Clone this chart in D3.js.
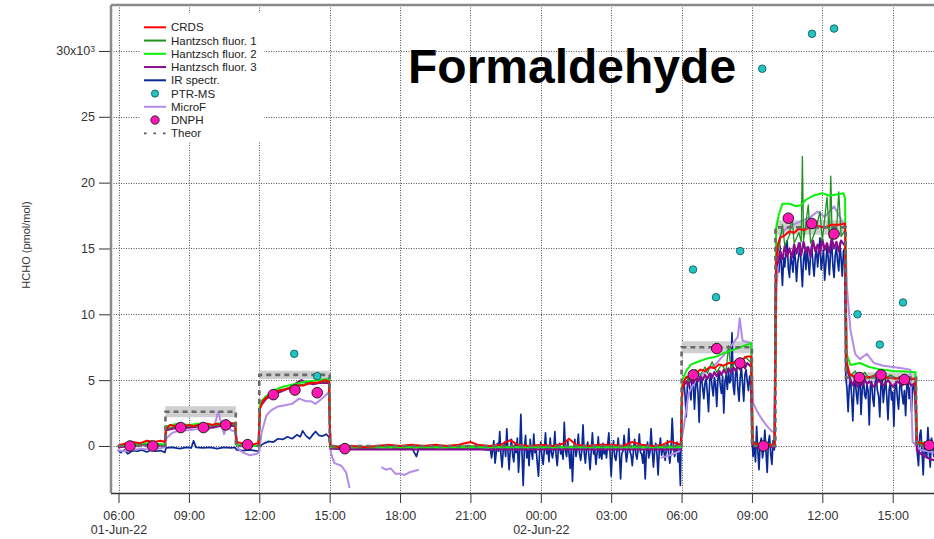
<!DOCTYPE html>
<meta charset="utf-8">
<style>
    body {
        margin: 0;
        background: #fff;
        font-family: 'Liberation Sans', Arial, sans-serif;
    }
    svg { display: block; }
    .tick text { fill: #333; }
</style>
<script src="https://cdn.jsdelivr.net/npm/d3@7"></script>
<div id="graph"></div>
<script>
    // all times are hours counted from 01-Jun-22 00:00, values in 10^3 pmol/mol
    const crds = [[5.97,0.0],[6.1,0.1],[6.3,0.2],[6.6,0.3],[6.9,0.2],[7.2,0.4],[7.5,0.3],[7.8,0.4],[7.97,0.3],
        [8.03,1.3],[8.2,1.6],[8.4,1.5],[8.6,1.7],[8.8,1.5],[9.0,1.6],[9.2,1.5],[9.4,1.6],[9.6,1.5],[9.8,1.7],[10.0,1.6],[10.2,1.7],[10.4,1.6],[10.6,1.8],[10.8,1.7],[10.97,1.7],
        [11.03,0.3],[11.3,0.2],[11.6,0.1],[11.97,0.2],
        [12.03,2.8],[12.15,3.4],[12.3,3.7],[12.5,3.9],[12.7,4.1],[12.9,4.25],[13.1,4.3],[13.3,4.4],[13.6,4.6],[13.9,4.6],[14.2,4.8],[14.5,4.8],[14.8,5.0],[14.97,4.9],
        [15.03,0.0],[15.5,-0.1],[16.0,0.0],[16.5,-0.1],[17.0,0.0],[17.5,0.1],[18.0,0.0],[18.5,0.1],[19.0,0.0],[19.5,0.1],[20.0,0.0],[20.5,0.1],[21.0,0.3],[21.3,0.1],[21.8,0.0],[22.3,0.1],[22.7,0.45],[23.0,0.1],[23.5,0.0],[24.0,0.1],[24.5,0.0],[25.0,0.2],[25.2,0.55],[25.5,0.1],[26.0,0.0],[26.5,0.1],[27.0,0.1],[27.5,0.0],[27.9,0.3],[28.3,0.1],[28.8,0.0],[29.2,0.1],[29.5,0.35],[29.97,0.1],
        [30.03,4.4],[30.15,5.1],[30.3,5.3],[30.45,5.6],[30.6,5.5],[30.8,5.8],[31.0,5.7],[31.2,6.0],[31.4,5.9],[31.6,6.2],[31.8,6.1],[32.0,6.3],[32.2,6.3],[32.4,6.5],[32.6,6.6],[32.8,6.8],[32.97,6.8],
        [33.03,0.2],[33.5,0.1],[33.97,0.1],
        [34.03,14.0],[34.1,15.3],[34.2,15.8],[34.4,16.0],[34.6,16.3],[34.8,16.2],[35.0,16.5],[35.2,16.4],[35.5,16.6],[35.8,16.7],[36.1,16.6],[36.4,16.8],[36.7,16.8],[36.97,16.9],
        [37.03,6.5],[37.15,5.5],[37.3,5.3],[37.6,5.4],[37.9,5.2],[38.2,5.3],[38.5,5.1],[38.8,5.2],[39.1,5.1],[39.4,5.2],[39.7,5.1],[39.97,5.1],
        [40.03,0.3],[40.3,0.2],[40.8,0.1]];

    const hantzsch1 = [[5.97,0.0],[6.5,0.1],[7.5,0.2],[7.97,0.1],[8.03,1.3],[8.5,1.5],[9.5,1.5],[10.5,1.6],[10.97,1.6],[11.03,0.1],[11.97,0.0],
        [12.03,3.2],[12.4,3.9],[13.0,4.3],[13.6,4.6],[14.2,4.8],[14.97,4.9],[15.03,0.0],[18,-0.05],[21,0.0],[24,-0.05],[27,0.0],[29.97,0.0],
        [30.03,4.6],[30.2,5.3],[30.3,4.9],[30.4,5.6],[30.5,5.1],[30.6,5.8],[30.8,5.4],[31.0,6.0],[31.1,5.5],[31.3,6.4],[31.5,5.6],[31.7,6.2],[31.9,5.7],[32.0,7.6],[32.1,5.9],[32.3,6.5],[32.5,5.9],[32.7,6.8],[32.97,6.3],
        [33.03,0.2],[33.5,0.0],[33.97,0.1],
        [34.03,14.0],[34.2,15.6],[34.3,16.8],[34.4,15.2],[34.6,16.0],[34.7,17.5],[34.8,15.4],[35.0,16.2],[35.1,15.5],[35.15,22.0],[35.2,15.6],[35.4,18.3],[35.5,15.4],[35.7,16.3],[35.9,17.8],[36.0,15.6],[36.2,18.9],[36.3,15.8],[36.36,20.5],[36.42,15.7],[36.6,16.2],[36.7,19.3],[36.8,15.9],[36.97,16.4],
        [37.03,6.0],[37.2,5.3],[37.4,5.7],[37.6,5.0],[37.8,5.6],[38.0,5.1],[38.3,5.5],[38.6,5.0],[38.9,5.4],[39.2,5.1],[39.5,5.4],[39.8,5.0],[39.97,5.2],
        [40.03,0.2],[40.4,0.1],[40.8,0.0]];

    const hantzsch2 = [[5.97,0.0],[6.5,0.1],[7.0,0.2],[7.5,0.2],[7.97,0.1],[8.03,1.5],[8.5,1.7],[9.0,1.6],[9.5,1.7],[10.0,1.6],[10.5,1.8],[10.97,1.7],[11.03,0.1],[11.5,0.0],[11.97,0.0],
        [12.03,3.3],[12.3,3.8],[12.6,4.2],[13.0,4.5],[13.5,4.7],[14.0,4.9],[14.5,5.0],[14.97,5.1],[15.03,-0.1],[20,-0.1],[25,-0.1],[29.97,-0.1],
        [30.03,5.0],[30.2,5.7],[30.4,6.2],[30.7,6.4],[31.1,6.65],[31.5,6.8],[31.8,7.05],[32.2,7.3],[32.5,7.5],[32.8,7.7],[32.97,7.8],
        [33.03,0.2],[33.5,0.1],[33.97,0.1],
        [34.03,16.5],[34.15,17.6],[34.3,18.4],[34.6,18.4],[34.9,18.2],[35.1,18.3],[35.3,18.7],[35.6,19.0],[36.0,19.2],[36.3,19.0],[36.6,19.1],[36.9,19.2],[36.97,18.8],
        [37.03,7.0],[37.2,6.15],[37.6,6.3],[38.0,6.0],[38.5,5.8],[39.0,5.7],[39.6,5.65],[39.97,5.6],
        [40.03,0.3],[40.5,0.2],[40.8,0.2]];

    const hantzsch3 = [[5.97,-0.1],[6.5,0.0],[7.0,0.1],[7.5,0.1],[7.97,0.0],[8.03,1.2],[8.5,1.4],[9.0,1.4],[9.5,1.5],[10.0,1.4],[10.5,1.6],[10.97,1.5],[11.03,0.1],[11.5,0.0],[11.97,0.0],
        [12.03,3.0],[12.3,3.6],[12.6,3.9],[13.0,4.2],[13.3,4.4],[13.6,4.8],[13.8,5.0],[14.0,4.8],[14.3,4.7],[14.6,4.8],[14.97,4.8],
        [15.03,-0.2],[16,-0.25],[18,-0.25],[20,-0.25],[22,-0.25],[24,-0.25],[26,-0.25],[28,-0.25],[29.97,-0.25],
        [30.03,4.4],[30.2,4.9],[30.3,4.6],[30.4,5.1],[30.5,4.8],[30.6,5.2],[30.7,4.9],[30.8,5.3],[30.9,5.0],[31.0,5.4],[31.1,5.1],[31.2,5.5],[31.3,5.2],[31.4,5.6],[31.5,5.3],[31.6,5.7],[31.7,5.4],[31.8,5.8],[31.9,5.5],[32.0,5.9],[32.1,5.6],[32.2,6.0],[32.3,5.7],[32.4,6.1],[32.5,5.8],[32.6,6.2],[32.7,5.9],[32.8,6.3],[32.97,6.0],
        [33.03,0.1],[33.3,-0.1],[33.6,0.0],[33.97,-0.1],
        [34.03,13.5],[34.15,14.2],[34.2,14.8],[34.3,14.2],[34.4,15.2],[34.5,14.4],[34.6,15.0],[34.7,14.3],[34.8,15.3],[34.9,14.6],[35.0,15.4],[35.1,14.5],[35.2,15.5],[35.3,14.7],[35.4,15.1],[35.5,14.4],[35.6,15.6],[35.7,14.8],[35.8,15.3],[35.9,14.6],[36.0,15.7],[36.1,14.9],[36.2,15.4],[36.3,14.7],[36.4,15.8],[36.5,15.0],[36.6,15.5],[36.7,14.8],[36.8,15.6],[36.97,15.2],
        [37.03,6.0],[37.2,5.0],[37.3,4.6],[37.4,5.1],[37.5,4.5],[37.6,5.0],[37.7,4.6],[37.8,5.1],[37.9,4.7],[38.0,4.9],[38.2,4.5],[38.4,5.0],[38.6,4.6],[38.8,5.0],[39.0,4.5],[39.2,4.9],[39.4,4.6],[39.6,5.0],[39.8,4.6],[39.97,4.8],
        [40.03,-0.3],[40.2,-0.6],[40.4,-0.8],[40.6,-1.0],[40.8,-1.1]];

    // IR spectrometer: quiet first day, then a 3-minute grid
    const irDay1 = [[5.97,-0.3],[6.1,-0.5],[6.25,-0.3],[6.4,-0.6],[6.6,-0.35],[6.8,-0.4],[7.0,-0.3],[7.2,-0.45],[7.4,-0.3],[7.6,-0.4],[7.8,-0.35],[7.97,-0.5],
        [8.03,-0.15],[8.3,-0.1],[8.6,-0.2],[8.9,-0.1],[9.1,-0.15],[9.2,0.4],[9.3,-0.1],[9.6,-0.15],[9.9,-0.1],[10.2,-0.2],[10.5,-0.1],[10.8,-0.15],[10.97,-0.1],
        [11.03,-0.3],[11.3,-0.35],[11.6,-0.3],[11.97,-0.4],
        [12.03,0.0],[12.2,0.2],[12.4,0.35],[12.6,0.3],[12.8,0.55],[13.0,0.5],[13.2,0.7],[13.4,0.55],[13.6,0.85],[13.75,0.7],[13.85,1.15],[14.0,0.75],[14.15,0.55],[14.3,0.9],[14.4,1.1],[14.55,0.8],[14.7,0.75],[14.85,0.9],[14.97,0.7],
        [15.03,-0.1],[15.5,-0.15],[16.0,-0.1],[16.5,-0.2],[17.0,-0.15],[17.5,-0.1],[18.0,-0.2],[18.5,-0.15],[18.7,-0.8],[18.8,-0.15],[19.3,-0.2],[19.8,-0.1],[20.3,-0.2],[20.8,-0.15],[21.3,-0.2],[21.7,-0.3]];
    const irStart = 21.8, irStep = 0.05;
    const irNoisy = [
        // 21:48 - 30:00 zero air
        -0.3,-0.2,-0.9,-0.3,0.4,-1.3,-0.5,0.2,-0.4,1.1,-0.6,-1.6,-0.3,0.3,-0.8,1.3,-0.4,-1.8,-0.2,0.5,
        -0.7,-1.2,0.1,-0.5,0.6,-2.0,-0.4,2.4,-0.6,-3.0,-0.2,0.8,-0.9,-0.3,-1.5,0.5,-0.4,-1.0,0.9,-0.5,
        -0.2,-1.3,-2.3,-0.4,0.3,-0.8,-1.4,-0.3,1.0,-0.6,-0.2,-1.2,0.6,-0.5,-0.9,-0.3,1.1,-0.7,-1.5,-0.2,
        0.2,-0.6,-0.4,-1.0,1.8,-0.3,-0.8,0.4,-0.5,-1.7,-0.2,-2.7,-0.4,0.5,-0.8,-0.2,0.9,-0.6,-1.1,-0.3,
        1.6,-0.5,-1.3,-0.2,0.3,-0.7,-1.8,-0.4,1.0,-0.6,-0.3,-1.4,-0.5,0.7,-0.9,-0.2,-1.0,0.2,-0.6,-0.3,
        -0.9,0.1,1.0,-0.5,-2.3,-0.4,0.4,-0.8,-1.1,-0.3,0.6,-0.5,-2.5,-0.6,-0.4,0.8,-0.2,-1.2,-0.5,1.3,
        -0.4,-0.7,-1.5,-0.3,0.5,-0.6,-1.0,-0.2,0.9,-0.5,-0.6,-1.3,-0.3,-2.5,-0.4,0.3,-0.9,-0.5,1.3,-0.3,
        -1.6,-0.4,0.2,-0.6,-2.2,-0.3,0.6,-0.7,-0.2,-0.4,-1.1,-0.2,0.4,-0.6,-1.3,-0.3,2.1,0.2,-0.8,-0.4,
        0.3,-1.2,-0.5,-3.0,
        // 30:00 - 33:00
        3.0,4.6,4.9,3.8,2.2,4.7,5.1,4.3,3.5,5.2,4.8,2.8,4.6,5.0,4.1,1.8,4.9,5.3,4.4,3.6,
        4.8,5.1,4.0,2.6,5.0,5.5,4.5,3.8,5.2,4.7,3.0,5.1,5.6,4.6,4.0,5.3,2.5,4.9,5.4,4.3,
        5.7,4.8,5.0,8.6,4.6,3.9,5.5,5.9,4.4,3.4,5.2,6.0,4.7,3.4,5.4,5.8,4.9,4.2,5.3,4.8,
        // 33:00 - 34:00
        0.5,-0.8,0.3,-1.2,1.5,-0.3,-1.8,0.2,0.6,-0.9,-0.2,1.2,-0.5,-2.0,0.3,0.8,-0.6,-1.4,0.4,-0.3,
        // 34:00 - 37:00
        12.4,14.0,14.6,13.2,15.2,13.8,12.2,14.3,13.6,14.8,15.6,13.5,12.8,14.4,14.0,13.2,15.0,14.2,12.5,13.9,
        14.5,15.4,13.6,12.1,14.2,14.8,13.4,15.1,14.0,13.0,14.6,15.3,13.8,12.9,14.4,15.0,13.6,14.7,15.8,13.4,
        14.1,14.9,12.6,13.8,15.2,14.3,13.0,14.7,15.5,13.7,12.8,14.5,15.1,14.0,13.3,15.4,14.2,12.9,14.8,15.0,
        // 37:00 - 40:00
        5.2,4.4,2.6,4.6,5.0,3.8,1.9,4.5,5.1,4.0,3.2,4.8,5.2,2.4,4.3,5.3,3.9,3.6,4.7,4.2,
        1.6,4.6,4.9,3.6,3.0,4.8,5.1,4.2,3.8,2.2,4.7,5.0,3.3,4.4,5.0,3.7,2.0,4.3,4.8,3.5,
        4.1,1.5,4.6,4.9,3.6,2.8,4.5,4.9,3.9,3.2,4.2,2.3,4.6,4.8,3.6,4.5,2.6,4.4,4.7,3.8,
        // 40:00 -
        0.5,-0.6,-1.5,0.8,1.2,-0.4,-2.2,0.3,-0.5,-0.9,1.4,-0.2,-1.6,0.6,0.2,-0.8,-0.3];

    const microF = [[5.97,-0.3],[6.2,-0.4],[6.6,-0.3],[7.0,-0.2],[7.4,-0.3],[7.97,-0.1],[8.05,0.6],[8.3,1.0],[8.6,1.2],[9.0,1.2],[9.4,1.3],[9.8,1.2],[10.1,1.6],[10.25,2.6],[10.4,1.6],[10.5,0.9],[10.6,1.5],[10.8,1.2],[11.0,1.1],
        [11.1,-0.2],[11.3,-0.5],[11.6,-0.7],[11.9,-0.6],[12.0,-0.4],[12.1,1.0],[12.3,2.3],[12.5,2.7],[12.8,3.0],[13.1,3.1],[13.4,3.2],[13.7,3.6],[14.0,3.4],[14.2,3.4],[14.4,3.2],[14.6,3.5],[14.8,3.8],[14.97,4.1],
        [15.05,-0.5],[15.2,-1.3],[15.5,-1.5],[15.7,-2.0],[15.85,-3.2], null,
        [17.2,-1.6],[17.4,-1.8],[17.6,-1.7],[17.8,-2.1],[18.0,-2.1],[18.2,-2.2],[18.4,-2.0],[18.6,-1.9],[18.8,-1.8], null,
        [29.1,-0.9],[29.5,-0.7],[29.9,-0.4],[30.1,1.5],[30.3,4.0],[30.6,5.0],[31.0,5.6],[31.5,6.3],[32.0,7.3],[32.2,7.8],[32.4,8.3],[32.48,9.7],[32.6,8.0],[32.97,7.8],
        [33.05,3.3],[33.2,2.7],[33.4,2.1],[33.6,1.6],[33.8,1.2],[33.95,1.0],
        [34.05,12.0],[34.2,16.0],[34.5,16.6],[35.0,17.0],[35.5,17.4],[35.8,17.8],[36.1,17.4],[36.5,18.2],[36.8,17.2],[36.97,16.5],
        [37.05,12.0],[37.2,8.8],[37.4,7.0],[37.6,6.6],[37.9,7.0],[38.2,6.3],[38.6,6.1],[39.0,6.0],[39.4,5.9],[39.75,5.8],[39.85,0.3],[40.2,-0.3],[40.5,-0.4],[40.8,-0.5]];

    const theorTime = [5.97, 8.0, 11.0, 12.0, 15.0, 30.0, 33.0, 34.0, 37.0, 40.0, 40.8];
    const theorValue = [0, 2.6, 0, 5.4, 0, 7.5, 0, 16.6, 5.2, 0, 0];
    const theorUnc = [0, 0.42, 0, 0.32, 0, 0.45, 0, 0.55, 0.4, 0, 0];

    const ptrms = [[13.49,7.0],[14.47,5.3],[30.49,13.4],[31.47,11.3],[32.5,14.8],[33.44,28.65],[35.56,31.3],[36.5,31.7],[37.5,10.0],[38.45,7.7],[39.44,10.9]];

    const dnph = [[6.49,0.0],[7.46,0.0],[8.65,1.4],[9.62,1.4],[10.57,1.6],[11.5,0.1],[12.6,3.9],[13.52,4.25],[14.47,4.05],[15.65,-0.2],
        [30.5,5.4],[31.5,7.4],[32.49,6.3],[33.49,0.0],[34.55,17.3],[35.55,16.9],[36.5,16.1],[37.58,5.2],[38.5,5.4],[39.5,5.05],[40.56,0.05]];

    const yTicks = [0, 5, 10, 15, 20, 25, 30];
    const legendNames = ["CRDS", "Hantzsch fluor. 1", "Hantzsch fluor. 2", "Hantzsch fluor. 3", "IR spectr.", "PTR-MS", "MicroF", "DNPH", "Theor"];

    // ---------- drawing ----------
    const width = 934, height = 539;
    const plot = {left: 111, right: 934, top: 5, bottom: 493};
    const day0 = new Date(2022, 5, 1);
    const toDate = h => new Date(day0.getTime() + h * 3600e3);

    const x = d3.scaleTime().domain([toDate(5.68), toDate(40.76)]).range([plot.left, plot.right]);
    const y = d3.scaleLinear().domain([-3.57, 33.49]).range([plot.bottom, plot.top]);

    const svg = d3.select("#graph").append("svg")
        .attr("width", width)
        .attr("height", height)
        .style("font-family", "'Liberation Sans', Arial, sans-serif");

    svg.append("clipPath").attr("id", "clip")
        .append("rect")
        .attr("x", plot.left).attr("y", plot.top)
        .attr("width", plot.right - plot.left).attr("height", plot.bottom - plot.top);

    const xTicks = x.ticks(d3.timeHour.every(3));

    // dotted grid
    const grid = svg.append("g").attr("stroke", "#555").attr("stroke-width", 1).attr("stroke-dasharray", "1,1.5");
    grid.selectAll("line.v").data(xTicks).enter().append("line")
        .attr("x1", d => Math.round(x(d)) + 0.5).attr("x2", d => Math.round(x(d)) + 0.5)
        .attr("y1", plot.top).attr("y2", plot.bottom);
    grid.selectAll("line.h").data(yTicks).enter().append("line")
        .attr("y1", d => Math.round(y(d)) + 0.5).attr("y2", d => Math.round(y(d)) + 0.5)
        .attr("x1", plot.left).attr("x2", plot.right);

    const area = svg.append("g").attr("clip-path", "url(#clip)");

    const theor = theorTime.map((t, i) => ({t: t, v: theorValue[i], u: theorUnc[i]}));

    area.append("path")
        .datum(theor)
        .attr("fill", "#cfcfcf")
        .attr("d", d3.area().curve(d3.curveStepAfter)
            .x(d => x(toDate(d.t)))
            .y0(d => y(d.v - d.u))
            .y1(d => y(d.v + d.u)));

    const line = d3.line()
        .defined(d => d !== null)
        .x(d => x(toDate(d[0])))
        .y(d => y(d[1]));

    const irData = irDay1.concat(irNoisy.map((v, i) => [irStart + i * irStep, v]));

    const series = [
        {data: irData, color: "#0a2896", w: 1.7},
        {data: microF, color: "#b48be9", w: 2},
        {data: hantzsch3, color: "#8b0d8b", w: 2.2},
        {data: hantzsch1, color: "#1e911e", w: 1.3},
        {data: hantzsch2, color: "#0af00a", w: 2},
        {data: crds, color: "#ff0000", w: 2}
    ];

    area.selectAll("path.series")
        .data(series)
        .enter().append("path")
        .attr("class", "series")
        .attr("fill", "none")
        .attr("stroke", d => d.color)
        .attr("stroke-width", d => d.w)
        .attr("stroke-linejoin", "round")
        .attr("d", d => line(d.data));

    area.append("path")
        .datum(theor)
        .attr("fill", "none")
        .attr("stroke", "#6a6a6a")
        .attr("stroke-width", 2.6)
        .attr("stroke-dasharray", "5,4")
        .attr("d", d3.line().curve(d3.curveStepAfter).x(d => x(toDate(d.t))).y(d => y(d.v)));

    area.selectAll("circle.ptr")
        .data(ptrms)
        .enter().append("circle")
        .attr("class", "ptr")
        .attr("cx", d => x(toDate(d[0])))
        .attr("cy", d => y(d[1]))
        .attr("r", 3.8)
        .attr("fill", "#22c3c3")
        .attr("stroke", "#0d4f4f")
        .attr("stroke-width", 0.8);

    area.selectAll("circle.dnph")
        .data(dnph)
        .enter().append("circle")
        .attr("class", "dnph")
        .attr("cx", d => x(toDate(d[0])))
        .attr("cy", d => y(d[1]))
        .attr("r", 5.3)
        .attr("fill", "#ff17b3")
        .attr("stroke", "#111")
        .attr("stroke-width", 0.9);

    // axes
    const fmtTime = d3.timeFormat("%H:%M"), fmtDay = d3.timeFormat("%d-%b-%y");
    const axisX = svg.append("g")
        .attr("transform", `translate(0,${plot.bottom})`)
        .call(d3.axisBottom(x).tickValues(xTicks).tickSize(10).tickPadding(8).tickFormat(fmtTime));
    axisX.select(".domain").remove();
    axisX.selectAll(".tick line").attr("stroke", "#333");
    axisX.selectAll(".tick text")
        .attr("font-size", 12.5)
        .attr("font-family", "'Liberation Sans', Arial, sans-serif")
        .each(function (d, i) {
            if (i === 0 || d.getHours() === 0) {
                d3.select(this).append("tspan").attr("x", 0).attr("dy", "1.1em").text(fmtDay(d));
            }
        });

    const axisY = svg.append("g")
        .attr("transform", `translate(${plot.left},0)`)
        .call(d3.axisLeft(y).tickValues(yTicks).tickSize(12).tickPadding(4).tickFormat(d => d === 30 ? "30x10" : d));
    axisY.select(".domain").remove();
    axisY.selectAll(".tick line").attr("stroke", "#333");
    axisY.selectAll(".tick text")
        .attr("font-size", 12.5)
        .attr("font-family", "'Liberation Sans', Arial, sans-serif")
        .each(function (d) {
            if (d === 30) {
                d3.select(this).append("tspan").attr("dy", "-0.45em").attr("font-size", 8.5).text("3");
            }
        });

    // frame
    svg.append("line").attr("x1", plot.left).attr("x2", plot.right).attr("y1", plot.bottom + 0.5).attr("y2", plot.bottom + 0.5)
        .attr("stroke", "#333").attr("stroke-width", 1.5);
    svg.append("line").attr("x1", plot.left).attr("x2", plot.left).attr("y1", plot.top).attr("y2", plot.bottom)
        .attr("stroke", "#8a8a8a").attr("stroke-width", 2.5);
    svg.append("line").attr("x1", plot.left).attr("x2", plot.right).attr("y1", plot.top).attr("y2", plot.top)
        .attr("stroke", "#8a8a8a").attr("stroke-width", 2.5);

    svg.append("text")
        .attr("transform", `translate(30,245)rotate(-90)`)
        .attr("text-anchor", "middle")
        .attr("font-size", 11)
        .attr("fill", "#333")
        .text("HCHO (pmol/mol)");

    svg.append("text")
        .attr("x", 408).attr("y", 83)
        .attr("font-size", 48)
        .attr("font-weight", "bold")
        .attr("fill", "#000")
        .text("Formaldehyde");

    // legend
    const legendStyle = [
        {type: "line", color: "#ff0000"},
        {type: "line", color: "#1e911e"},
        {type: "line", color: "#0af00a"},
        {type: "line", color: "#8b0d8b"},
        {type: "line", color: "#0a2896"},
        {type: "dot", color: "#22c3c3", stroke: "#0d4f4f", r: 3.6},
        {type: "line", color: "#b48be9"},
        {type: "dot", color: "#ff17b3", stroke: "#111", r: 4.2},
        {type: "dash", color: "#555"}
    ];
    const legend = svg.append("g");
    legend.append("rect").attr("x", 140).attr("y", 13).attr("width", 124).attr("height", 129).attr("fill", "#fff");
    const rows = legend.selectAll("g.row")
        .data(legendNames)
        .enter().append("g")
        .attr("class", "row")
        .attr("transform", (d, i) => `translate(0,${27.3 + i * 13.25})`);
    rows.each(function (d, i) {
        const g = d3.select(this), s = legendStyle[i];
        if (s.type === "dot") {
            g.append("circle").attr("cx", 155).attr("cy", 0).attr("r", s.r)
                .attr("fill", s.color).attr("stroke", s.stroke).attr("stroke-width", 0.8);
        } else {
            g.append("line").attr("x1", 144).attr("x2", 166).attr("y1", 0).attr("y2", 0)
                .attr("stroke", s.color).attr("stroke-width", s.type === "dash" ? 1.8 : 2)
                .attr("stroke-dasharray", s.type === "dash" ? "2.5,7" : null);
        }
        g.append("text").attr("x", 171).attr("y", 0).attr("dy", "0.35em")
            .attr("font-size", 11.5).attr("fill", "#222").text(d);
    });
</script>
